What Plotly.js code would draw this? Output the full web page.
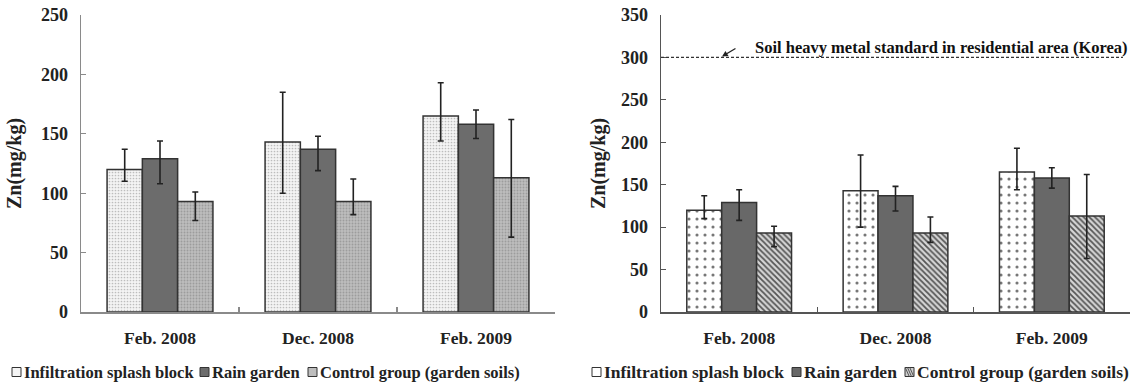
<!DOCTYPE html>
<html>
<head>
<meta charset="utf-8">
<script src="https://cdn.plot.ly/plotly-3.0.1.min.js"></script>
<style>html,body{margin:0;padding:0;background:#fff}#chart{width:1137px;height:384px}</style>
</head>
<body>
<div id="chart"></div>
<script>
// ---- data ----
const categories = ['Feb. 2008', 'Dec. 2008', 'Feb. 2009'];
const seriesNames = ['Infiltration splash block', 'Rain garden', 'Control group (garden soils)'];
const splashBlock = [120, 143, 165];
const splashPlus = [17, 42, 28];
const splashMinus = [10, 43, 21];
const rainGarden = [129, 137, 158];
const rainPlus = [15, 11, 12];
const rainMinus = [21, 18, 12];
const controlGroup = [93, 93, 113];
const controlPlus = [8, 19, 49];
const controlMinus = [16, 11, 50];
const standardValue = 300;
const standardLabel = 'Soil heavy metal standard in residential area (Korea)';
const yTitle = 'Zn(mg/kg)';

const W = 1137, H = 384;
const FONT = 'Liberation Serif, Times New Roman, serif';
const OUT = '#333';

function err(plus, minus) {
  return {type: 'data', symmetric: false, array: plus, arrayminus: minus,
          color: '#222', thickness: 1.6, width: 3};
}

const leftStyles = [
  {color: '#f2f2f2', pattern: {shape: '.', fgcolor: '#bdbdbd', bgcolor: '#f4f4f4', size: 3, solidity: 0.25}},
  {color: '#6c6c6c'},
  {color: '#b6b6b6', pattern: {shape: '.', fgcolor: '#9c9c9c', bgcolor: '#bdbdbd', size: 3, solidity: 0.3}}
];
const rightStyles = [
  {color: '#ffffff', pattern: {shape: '.', fgcolor: '#777', bgcolor: '#ffffff', size: 8, solidity: 0.12}},
  {color: '#686868'},
  {color: '#bdbdbd', pattern: {shape: '\\', fgcolor: '#555', bgcolor: '#d6d6d6', size: 4, solidity: 0.45}}
];
const legendFill = [['#f4f4f4', '#6c6c6c', '#bdbdbd'], ['#ffffff', '#686868', '#cfcfcf']];
const vals = [splashBlock, rainGarden, controlGroup];
const plus = [splashPlus, rainPlus, controlPlus];
const minus = [splashMinus, rainMinus, controlMinus];

const traces = [];
for (let i = 0; i < 3; i++) {
  traces.push({
    type: 'bar', x: categories, y: vals[i], name: seriesNames[i],
    xaxis: 'x', yaxis: 'y', showlegend: false,
    marker: Object.assign({line: {color: OUT, width: 1.5}}, leftStyles[i]),
    error_y: err(plus[i], minus[i]), hoverinfo: 'y'
  });
}
for (let i = 0; i < 3; i++) {
  traces.push({
    type: 'bar', x: categories, y: vals[i], name: seriesNames[i],
    xaxis: 'x2', yaxis: 'y2', showlegend: false,
    marker: Object.assign({line: {color: OUT, width: 1.5}}, rightStyles[i]),
    error_y: err(plus[i], minus[i]), hoverinfo: 'y'
  });
}

const yDom = [72 / H, 369 / H];
function xax(domain, lineColor, anchor) {
  return {
    domain: domain, anchor: anchor, type: 'category',
    showline: true, linecolor: lineColor, linewidth: 1.5,
    ticks: 'inside', tickson: 'boundaries', ticklen: 5, tickcolor: lineColor, tickwidth: 1.2,
    tickfont: {family: FONT, size: 17.5, color: '#222', weight: 'bold'},
    ticklabelstandoff: 9, showgrid: false, zeroline: false, fixedrange: true
  };
}
function yax(domain, range, dtick, lineColor, anchor, standoff) {
  return {
    domain: domain, anchor: anchor, range: range, dtick: dtick,
    showline: true, linecolor: lineColor, linewidth: 1.5,
    ticks: 'inside', ticklen: 5, tickcolor: lineColor, tickwidth: 1.2,
    tickfont: {family: FONT, size: 18, color: '#222', weight: 'bold'},
    ticklabelstandoff: 8, showgrid: false, zeroline: false, fixedrange: true,
    title: {text: yTitle, font: {family: FONT, size: 20, color: '#222', weight: 'bold'}, standoff: standoff}
  };
}

// ---- reference line, its label, and hand-drawn legends (one per panel) ----
const shapes = [{
  type: 'line', xref: 'x2 domain', yref: 'y2', x0: 0, x1: 0.985, y0: standardValue, y1: standardValue,
  line: {color: '#333', width: 1.3, dash: '3px,2px'}
}];
const annotations = [
  {xref: 'x2 domain', yref: 'y2', x: 1.0, y: standardValue + 12, xanchor: 'right', yanchor: 'middle',
   text: standardLabel, showarrow: false,
   font: {family: FONT, size: 16.5, color: '#111', weight: 'bold'}},
  {xref: 'x2 domain', yref: 'y2', x: 0.13, y: standardValue + 1, text: '', showarrow: true,
   ax: 15, ay: -9, arrowhead: 2, arrowsize: 0.9, arrowwidth: 1.3, arrowcolor: '#222', standoff: 0}
];
const legendSpecs = [
  {starts: [12, 200, 308], size: 16.5, fills: legendFill[0]},
  {starts: [592, 792, 905], size: 17.5, fills: legendFill[1]}
];
const legY = 372, sq = 9;
legendSpecs.forEach((spec, p) => {
  spec.starts.forEach((x0, i) => {
    shapes.push({type: 'rect', xref: 'paper', yref: 'paper',
      x0: x0 / W, x1: (x0 + sq) / W, y0: (H - legY - sq / 2) / H, y1: (H - legY + sq / 2) / H,
      fillcolor: spec.fills[i], line: {color: '#333', width: 1}});
    if (p === 1 && i === 2) {
      let d = '';
      for (let k = 1; k <= 3; k++) {
        const o = k * sq / 4;
        d += `M ${(x0 + o - 2) / W} ${(H - legY + sq / 2) / H} L ${(x0 + o + 2) / W} ${(H - legY - sq / 2) / H} `;
      }
      shapes.push({type: 'path', xref: 'paper', yref: 'paper', path: d, line: {color: '#555', width: 1}});
    }
    annotations.push({xref: 'paper', yref: 'paper', x: (x0 + sq + 1) / W, y: (H - legY) / H,
      xanchor: 'left', yanchor: 'middle', showarrow: false, text: seriesNames[i],
      font: {family: FONT, size: spec.size, color: '#222', weight: 'bold'}});
  });
});

const layout = {
  width: W, height: H,
  margin: {l: 0, r: 0, t: 0, b: 0},
  paper_bgcolor: '#fff', plot_bgcolor: 'rgba(0,0,0,0)',
  font: {family: FONT, color: '#222', weight: 'bold'},
  showlegend: false,
  barmode: 'group', bargap: 0.33, bargroupgap: 0,
  xaxis: xax([81 / W, 555 / W], '#8a8a8a', 'y'),
  yaxis: yax(yDom, [0, 250], 50, '#8a8a8a', 'x', 14),
  xaxis2: xax([661 / W, 1130 / W], '#555', 'y2'),
  yaxis2: yax(yDom, [0, 350], 50, '#555', 'x2', 10),
  shapes: shapes,
  annotations: annotations
};

Plotly.newPlot('chart', traces, layout, {displayModeBar: false, staticPlot: true});
</script>
</body>
</html>
